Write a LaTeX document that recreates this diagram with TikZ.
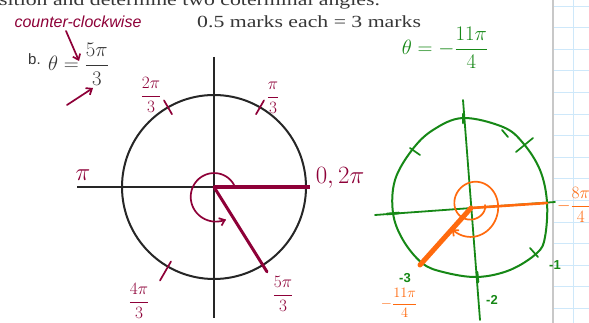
\documentclass[tikz,border=0pt]{standalone}
\usepackage{amsmath}
\usepackage{fontspec}
\usepackage{graphicx}
\setmainfont{Liberation Serif}
\setsansfont{Liberation Sans}
\usetikzlibrary{arrows.meta}
\definecolor{inkred}{RGB}{142,0,56}
\definecolor{inkgreen}{RGB}{22,136,22}
\definecolor{inkorange}{RGB}{255,106,14}
\definecolor{gridblue}{RGB}{206,232,250}
\definecolor{edgegray}{RGB}{200,200,200}
\definecolor{printgray}{RGB}{55,55,55}
\tikzset{
  printed/.style={inner sep=0pt, text=printgray, font=\fontsize{17}{20}\selectfont},
  hand/.style={inner sep=0pt, font=\sffamily\bfseries\fontsize{13}{15}\selectfont},
  pen/.style={line width=1.7pt, line cap=round, line join=round},
  axis/.style={line width=2.4pt, draw=black!85},
  ring/.style={line width=2pt, draw=black!85},
}
\begin{document}
\begin{tikzpicture}[x=1pt,y=1pt,>={Straight Barb[length=5pt,width=8pt]}]
  \useasboundingbox (0,0) rectangle (589,323);
  \fill[white] (0,0) rectangle (589,323);
  % graph paper strip
  \foreach \k in {0,...,14}
    \draw[gridblue,line width=0.8pt] (553,317-21.6*\k) -- (589,317-21.6*\k);
  \draw[gridblue,line width=0.8pt] (573,0) -- (573,323);
  \draw[edgegray,line width=2.4pt] (553,0) -- (553,323);

  % printed question
  \node[printed,anchor=base west] (head) at (-1,317) {\scalebox{1.28}[1]{sition and determine two coterminal angles.}};
  \node[printed,anchor=base west] (marks) at (197,295) {\scalebox{1.28}[1]{0.5 marks each = 3 marks}};
  \node[printed,anchor=base west,font=\sffamily\fontsize{15}{17}\selectfont] (part) at (28,258) {b.};
  \node[printed,anchor=base west,font=\fontsize{21}{24}\selectfont] (theta) at (48,252) {$\theta=\dfrac{5\pi}{3}$};

  % notes in red ink
  \node[hand,text=inkred,font=\sffamily\itshape\fontsize{16}{18}\selectfont] (ccw) at (78,301) {counter-clockwise};
  \coordinate (ccwtail) at (66,292);
  \coordinate (ccwtip) at (79,262);
  \draw[pen,inkred,->] (ccwtail) -- (ccwtip);
  \coordinate (pointtail) at (67,218);
  \coordinate (pointtip) at (93,235);
  \draw[pen,inkred,->] (pointtail) -- (pointtip);

  % 5pi/3 circle
  \begin{scope}[shift={(214,136)}]
    \coordinate (lO) at (0,0);
    \draw[axis] (-137,0) -- (96,0);
    \draw[axis] (0,130) -- (0,-131);
    \draw[ring] (lO) circle (92);
    \foreach \a in {60,120}
      \draw[pen,inkred] (\a:84) -- (\a:100);
    \draw[pen,inkred] (240:86) -- (240:108);
    \draw[inkred,line width=4pt] (lO) -- (96,0);
    \draw[inkred,line width=3pt,line cap=round] (lO) -- (-58:100);
    \draw[pen,inkred,->] plot[domain=30:295,samples=60,smooth]
      ({1+(22+4*(\x-30)/265)*cos(\x)},{-9+(22+4*(\x-30)/265)*sin(\x)});
    \node[hand,text=inkred,font=\fontsize{16}{18}\selectfont] (lpithird) at (59,89) {$\dfrac{\pi}{3}$};
    \node[hand,text=inkred,font=\fontsize{16}{18}\selectfont] (ltwothird) at (-63,92) {$\dfrac{2\pi}{3}$};
    \node[hand,text=inkred,font=\fontsize{24}{26}\selectfont] (lpi) at (-131,12) {$\pi$};
    \node[hand,text=inkred,font=\fontsize{24}{26}\selectfont] (lzero) at (126,9) {$0,2\pi$};
    \node[hand,text=inkred,font=\fontsize{19}{21}\selectfont] (lfourthird) at (-75,-114) {$\dfrac{4\pi}{3}$};
    \node[hand,text=inkred,font=\fontsize{18}{20}\selectfont] (lfivethird) at (69,-107) {$\dfrac{5\pi}{3}$};
  \end{scope}

  % -11pi/4 circle
  \begin{scope}[shift={(471,115)}]
    \coordinate (rO) at (0,0);
    \node[hand,text=inkgreen,font=\fontsize{22}{24}\selectfont] (gtitle) at (-26,160) {$\theta = -\dfrac{11\pi}{4}$};
    \draw[pen,inkgreen,line width=1.8pt] (-8,108) -- (9,-112);
    \draw[pen,inkgreen,line width=1.8pt] (-96,-7) -- (84,6);
    \draw[pen,inkgreen,line width=2pt] plot[smooth cycle,tension=0.6] coordinates {
      (-8,90) (32,81) (52,65) (69,38) (76,6) (74,-29) (66,-45) (39,-62)
      (6,-69) (-28,-64) (-49,-55) (-68,-32) (-78,-5) (-76,28) (-59,58) (-38,78)};
    \draw[pen,inkgreen] (45,56) -- (62,70);
    \draw[pen,inkgreen] (31,78) -- (37,71);
    \draw[pen,inkgreen] (-61,60) -- (-51,53);
    \draw[pen,inkgreen,line width=2.6pt] (-84,-6) -- (-72,-5);
    \draw[pen,inkgreen] (59,-40) -- (67,-49);
    \draw[pen,inkgreen,line width=2.6pt] (-8,85) -- (-8,94);
    \draw[pen,inkgreen,line width=2.6pt] (6,-64) -- (7,-74);
    \node[hand,text=inkgreen] (gone) at (84,-57) {-1};
    \node[hand,text=inkgreen] (gtwo) at (21,-92) {-2};
    \node[hand,text=inkgreen] (gthree) at (-66,-70) {-3};
    % terminal arm and turns
    \draw[inkorange,line width=2.6pt,line cap=round] (rO) -- (76,5);
    \draw[pen,inkorange,->] plot[domain=0:495,samples=100,smooth]
      ({2+(12+18*\x/495)*cos(-\x)},{3+(10+24*\x/495)*sin(-\x)});
    \draw[inkorange,line width=5pt,line cap=round] (rO) -- (-51,-57);
    \node[hand,text=inkorange,font=\fontsize{15}{17}\selectfont] (oeleven) at (-72,-95) {$-\dfrac{11\pi}{4}$};
    \node[hand,text=inkorange,font=\fontsize{16}{18}\selectfont] (oeight) at (103,3) {$-\dfrac{8\pi}{4}$};
  \end{scope}
\end{tikzpicture}
\end{document}
